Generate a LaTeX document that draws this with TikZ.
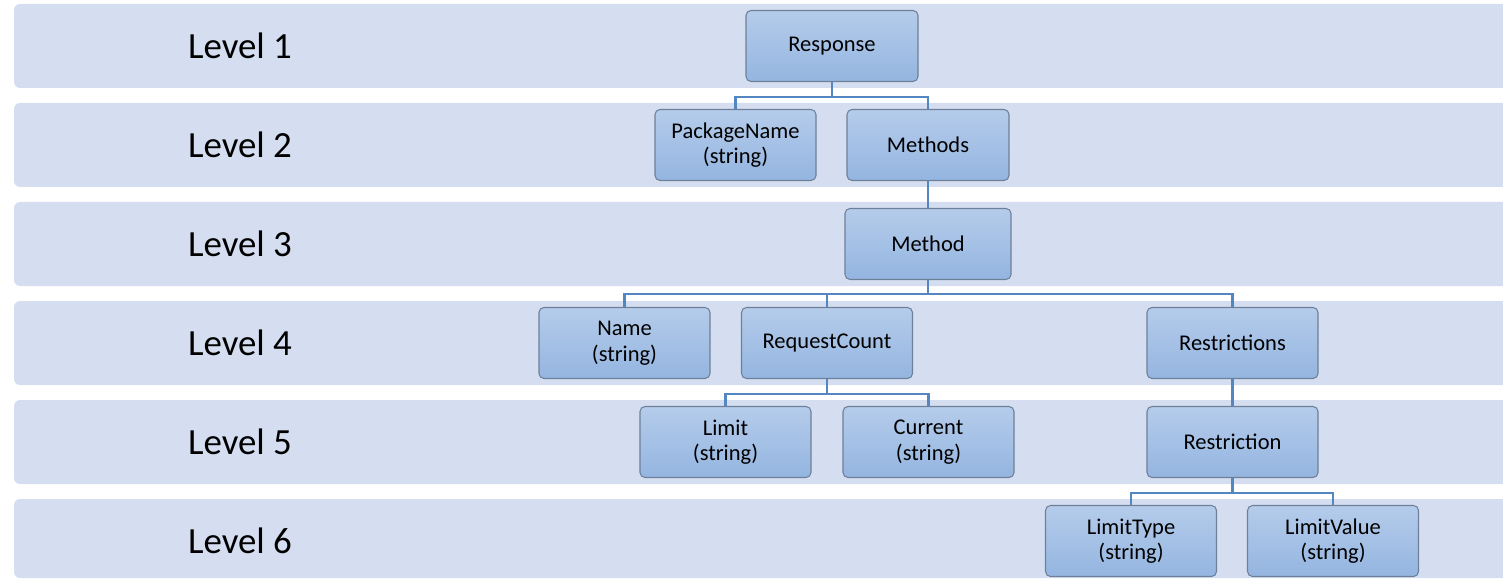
\documentclass[tikz,border=0pt]{standalone}
\usepackage{fontspec}
\setmainfont{Carlito}
\usetikzlibrary{shadings, positioning}
\definecolor{bandcolor}{rgb}{0.83, 0.87, 0.94}
\definecolor{nodetop}{rgb}{0.71, 0.80, 0.92}
\definecolor{nodebot}{rgb}{0.58, 0.71, 0.88}
\definecolor{nodeline}{rgb}{0.43, 0.50, 0.60}
\definecolor{linecolor}{rgb}{0.33, 0.53, 0.76}
\tikzstyle{field} = [rectangle,draw=nodeline,line width=.6pt,rounded corners=.1cm,top color=nodetop,bottom color=nodebot,minimum width=3.42cm,minimum height=1.42cm,inner sep=0pt,align=center,font=\fontsize{12.8}{14.5}\selectfont]
\tikzstyle{band} = [fill=bandcolor,rounded corners=.12cm]
\tikzstyle{lvlabel} = [font=\fontsize{21}{25}\selectfont]
\tikzstyle{conn} = [draw=linecolor,line width=1.2pt]

\begin{document}
\begin{tikzpicture}[node distance=1.98cm]
		\clip (0,0) rectangle (30.06,-11.58);
		\foreach \i/\h in {1/1.68,2/1.68,3/1.68,4/1.68,5/1.68,6/1.58}{
			\fill[band] (.28,{-.08-(\i-1)*1.98}) rectangle ++(31,-\h);
			\node[lvlabel] (lvl\i) at (4.8,{-.92-(\i-1)*1.98}) {Level \i};
		}
		
		\node [field,minimum width=3.44cm] (resp) at (16.64,-.92) {Response};
		\node [field,below of=resp,xshift=-1.93cm,minimum width=3.22cm] (pkg) {PackageName\\(string)};
		\node [field,below of=resp,xshift=1.92cm,minimum width=3.24cm] (meths) {Methods};
		\node [field,below of=meths,minimum width=3.32cm] (meth) {Method};
		\node [field,below of=meth,xshift=-6.07cm] (name) {Name\\(string)};
		\node [field,below of=meth,xshift=-2.02cm] (reqcount) {RequestCount};
		\node [field,below of=meth,xshift=6.09cm] (restrs) {Restrictions};
		\node [field,below of=reqcount,xshift=-2.03cm] (limit) {Limit\\(string)};
		\node [field,below of=reqcount,xshift=2.03cm] (current) {Current\\(string)};
		\node [field,below of=restrs] (restr) {Restriction};
		\node [field,below of=restr,xshift=-2.03cm] (ltype) {LimitType\\(string)};
		\node [field,below of=restr,xshift=2.01cm] (lvalue) {LimitValue\\(string)};
		
		\draw[conn](resp.south)--++(0,-.3)-|(pkg.north);
		\draw[conn](resp.south)--++(0,-.3)-|(meths.north);
		\draw[conn](meths)--(meth);
		\draw[conn](meth.south)--++(0,-.28)-|(name.north);
		\draw[conn](meth.south)--++(0,-.28)-|(reqcount.north);
		\draw[conn](meth.south)--++(0,-.28)-|(restrs.north);
		\draw[conn](reqcount.south)--++(0,-.3)-|(limit.north);
		\draw[conn](reqcount.south)--++(0,-.3)-|(current.north);
		\draw[conn](restrs)--(restr);
		\draw[conn](restr.south)--++(0,-.3)-|(ltype.north);
		\draw[conn](restr.south)--++(0,-.3)-|(lvalue.north);
\end{tikzpicture}
\end{document}
